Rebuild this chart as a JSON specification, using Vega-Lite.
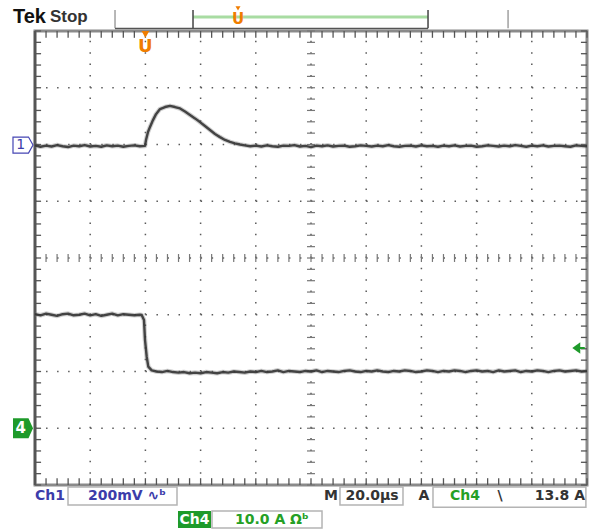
{
  "$schema": "https://vega.github.io/schema/vega-lite/v6.json",
  "width": 552,
  "height": 454,
  "autosize": {"type": "none"},
  "padding": {"left": 35, "top": 31, "right": 10, "bottom": 44},
  "background": "white",
  "config": {"view": {"stroke": "#8a8a8a", "strokeWidth": 3}},
  "datasets": {
    "vgrid": [{"t": -20}, {"t": 0}, {"t": 20}, {"t": 40}, {"t": 60}, {"t": 80}, {"t": 100}, {"t": 120}, {"t": 140}],
    "hgrid": [{"d": -3}, {"d": -2}, {"d": -1}, {"d": 0}, {"d": 1}, {"d": 2}, {"d": 3}],
    "xsub": [{"t": -40}, {"t": -36}, {"t": -32}, {"t": -28}, {"t": -24}, {"t": -20}, {"t": -16}, {"t": -12}, {"t": -8}, {"t": -4}, {"t": 0}, {"t": 4}, {"t": 8}, {"t": 12}, {"t": 16}, {"t": 20}, {"t": 24}, {"t": 28}, {"t": 32}, {"t": 36}, {"t": 40}, {"t": 44}, {"t": 48}, {"t": 52}, {"t": 56}, {"t": 60}, {"t": 64}, {"t": 68}, {"t": 72}, {"t": 76}, {"t": 80}, {"t": 84}, {"t": 88}, {"t": 92}, {"t": 96}, {"t": 100}, {"t": 104}, {"t": 108}, {"t": 112}, {"t": 116}, {"t": 120}, {"t": 124}, {"t": 128}, {"t": 132}, {"t": 136}, {"t": 140}, {"t": 144}, {"t": 148}, {"t": 152}, {"t": 156}, {"t": 160}],
    "ysub": [{"d": -4}, {"d": -3.8}, {"d": -3.6}, {"d": -3.4}, {"d": -3.2}, {"d": -3}, {"d": -2.8}, {"d": -2.6}, {"d": -2.4}, {"d": -2.2}, {"d": -2}, {"d": -1.8}, {"d": -1.6}, {"d": -1.4}, {"d": -1.2}, {"d": -1}, {"d": -0.8}, {"d": -0.6}, {"d": -0.4}, {"d": -0.2}, {"d": 0}, {"d": 0.2}, {"d": 0.4}, {"d": 0.6}, {"d": 0.8}, {"d": 1}, {"d": 1.2}, {"d": 1.4}, {"d": 1.6}, {"d": 1.8}, {"d": 2}, {"d": 2.2}, {"d": 2.4}, {"d": 2.6}, {"d": 2.8}, {"d": 3}, {"d": 3.2}, {"d": 3.4}, {"d": 3.6}, {"d": 3.8}, {"d": 4}],
    "ch1": [
      {"t": -40, "mV": -3}, {"t": -38, "mV": -8}, {"t": -36, "mV": -4}, {"t": -34, "mV": -7}, {"t": -32, "mV": -2}, {"t": -30, "mV": -6}, {"t": -28, "mV": -9}, {"t": -26, "mV": -4}, {"t": -24, "mV": -6}, {"t": -22, "mV": -2}, {"t": -20, "mV": -7}, {"t": -18, "mV": -5}, {"t": -16, "mV": -8}, {"t": -14, "mV": -3}, {"t": -12, "mV": -6}, {"t": -10, "mV": -4}, {"t": -8, "mV": -8}, {"t": -6, "mV": -5}, {"t": -4, "mV": -3}, {"t": -2, "mV": -6},
      {"t": -0.14, "mV": -5}, {"t": 0.22, "mV": 16}, {"t": 0.94, "mV": 44}, {"t": 1.67, "mV": 62}, {"t": 2.75, "mV": 86}, {"t": 3.84, "mV": 107}, {"t": 5.29, "mV": 125}, {"t": 7.1, "mV": 132}, {"t": 8.91, "mV": 136}, {"t": 10.72, "mV": 132}, {"t": 12.54, "mV": 127}, {"t": 14.35, "mV": 116}, {"t": 16.16, "mV": 104}, {"t": 17.97, "mV": 92}, {"t": 19.78, "mV": 79}, {"t": 21.59, "mV": 65}, {"t": 23.41, "mV": 51}, {"t": 25.22, "mV": 37}, {"t": 27.03, "mV": 26}, {"t": 28.84, "mV": 16}, {"t": 30.65, "mV": 9}, {"t": 32.46, "mV": 4}, {"t": 34.28, "mV": 0}, {"t": 36, "mV": -3}, {"t": 38, "mV": -6},
      {"t": 40, "mV": -4}, {"t": 42, "mV": -7}, {"t": 44, "mV": -3}, {"t": 46, "mV": -6}, {"t": 48, "mV": -8}, {"t": 50, "mV": -4}, {"t": 52, "mV": -5}, {"t": 54, "mV": -2}, {"t": 56, "mV": -7}, {"t": 58, "mV": -5}, {"t": 60, "mV": -9}, {"t": 62, "mV": -4}, {"t": 64, "mV": -6}, {"t": 66, "mV": -3}, {"t": 68, "mV": -7}, {"t": 70, "mV": -5}, {"t": 72, "mV": -4}, {"t": 74, "mV": -8}, {"t": 76, "mV": -6}, {"t": 78, "mV": -3}, {"t": 80, "mV": -5}, {"t": 82, "mV": -7}, {"t": 84, "mV": -4}, {"t": 86, "mV": -6}, {"t": 88, "mV": -2}, {"t": 90, "mV": -6}, {"t": 92, "mV": -8}, {"t": 94, "mV": -5}, {"t": 96, "mV": -4}, {"t": 98, "mV": -7}, {"t": 100, "mV": -3}, {"t": 102, "mV": -6}, {"t": 104, "mV": -5}, {"t": 106, "mV": -8}, {"t": 108, "mV": -4}, {"t": 110, "mV": -6}, {"t": 112, "mV": -3}, {"t": 114, "mV": -7}, {"t": 116, "mV": -5}, {"t": 118, "mV": -4}, {"t": 120, "mV": -8}, {"t": 122, "mV": -6}, {"t": 124, "mV": -3}, {"t": 126, "mV": -5}, {"t": 128, "mV": -7}, {"t": 130, "mV": -4}, {"t": 132, "mV": -6}, {"t": 134, "mV": -2}, {"t": 136, "mV": -5}, {"t": 138, "mV": -8}, {"t": 140, "mV": -4}, {"t": 142, "mV": -6}, {"t": 144, "mV": -3}, {"t": 146, "mV": -7}, {"t": 148, "mV": -5}, {"t": 150, "mV": -4}, {"t": 152, "mV": -6}, {"t": 154, "mV": -8}, {"t": 156, "mV": -3}, {"t": 158, "mV": -5}, {"t": 160, "mV": -6}
    ],
    "ch4": [
      {"t": -40, "A": 20.1}, {"t": -38, "A": 19.9}, {"t": -36, "A": 20.2}, {"t": -34, "A": 20.0}, {"t": -32, "A": 19.8}, {"t": -30, "A": 20.1}, {"t": -28, "A": 20.2}, {"t": -26, "A": 19.9}, {"t": -24, "A": 20.0}, {"t": -22, "A": 20.2}, {"t": -20, "A": 19.9}, {"t": -18, "A": 20.1}, {"t": -16, "A": 19.8}, {"t": -14, "A": 20.0}, {"t": -12, "A": 20.2}, {"t": -10, "A": 19.9}, {"t": -8, "A": 20.1}, {"t": -6, "A": 20.0}, {"t": -4, "A": 19.9}, {"t": -2, "A": 20.0},
      {"t": -1.34, "A": 19.96}, {"t": -0.51, "A": 19.08}, {"t": -0.14, "A": 15.55}, {"t": 0.47, "A": 12.61}, {"t": 1.05, "A": 10.85}, {"t": 2.28, "A": 10.2},
      {"t": 4, "A": 10.0}, {"t": 6, "A": 9.9}, {"t": 8, "A": 10.1}, {"t": 10, "A": 9.9}, {"t": 12, "A": 9.8}, {"t": 14, "A": 9.9}, {"t": 16, "A": 9.7}, {"t": 18, "A": 9.8}, {"t": 20, "A": 9.7}, {"t": 22, "A": 9.9}, {"t": 24, "A": 9.8}, {"t": 26, "A": 9.7}, {"t": 28, "A": 9.9}, {"t": 30, "A": 9.8}, {"t": 32, "A": 10.0}, {"t": 34, "A": 9.9}, {"t": 36, "A": 9.8}, {"t": 38, "A": 10.0}, {"t": 40, "A": 9.9}, {"t": 42, "A": 10.1}, {"t": 44, "A": 9.9}, {"t": 46, "A": 10.0}, {"t": 48, "A": 10.2}, {"t": 50, "A": 9.9}, {"t": 52, "A": 10.1}, {"t": 54, "A": 10.0}, {"t": 56, "A": 9.9}, {"t": 58, "A": 10.1}, {"t": 60, "A": 10.0}, {"t": 62, "A": 10.2}, {"t": 64, "A": 9.9}, {"t": 66, "A": 10.1}, {"t": 68, "A": 10.0}, {"t": 70, "A": 9.9}, {"t": 72, "A": 10.1}, {"t": 74, "A": 10.2}, {"t": 76, "A": 10.0}, {"t": 78, "A": 9.9}, {"t": 80, "A": 10.1}, {"t": 82, "A": 10.0}, {"t": 84, "A": 10.2}, {"t": 86, "A": 10.0}, {"t": 88, "A": 9.9}, {"t": 90, "A": 10.1}, {"t": 92, "A": 10.0}, {"t": 94, "A": 10.2}, {"t": 96, "A": 10.1}, {"t": 98, "A": 9.9}, {"t": 100, "A": 10.0}, {"t": 102, "A": 10.2}, {"t": 104, "A": 10.1}, {"t": 106, "A": 9.9}, {"t": 108, "A": 10.1}, {"t": 110, "A": 10.0}, {"t": 112, "A": 10.2}, {"t": 114, "A": 10.1}, {"t": 116, "A": 9.9}, {"t": 118, "A": 10.1}, {"t": 120, "A": 10.2}, {"t": 122, "A": 10.0}, {"t": 124, "A": 10.1}, {"t": 126, "A": 9.9}, {"t": 128, "A": 10.2}, {"t": 130, "A": 10.0}, {"t": 132, "A": 10.1}, {"t": 134, "A": 10.2}, {"t": 136, "A": 9.9}, {"t": 138, "A": 10.1}, {"t": 140, "A": 10.0}, {"t": 142, "A": 10.2}, {"t": 144, "A": 10.1}, {"t": 146, "A": 9.9}, {"t": 148, "A": 10.1}, {"t": 150, "A": 10.2}, {"t": 152, "A": 10.0}, {"t": 154, "A": 10.1}, {"t": 156, "A": 10.2}, {"t": 158, "A": 10.0}, {"t": 160, "A": 10.1}
    ]
  },
  "resolve": {"scale": {"y": "independent"}},
  "layer": [
    {
      "data": {"name": "vgrid"},
      "mark": {"type": "rule", "color": "#5a5a5a", "strokeWidth": 1.5, "strokeDash": [1.5, 9.85]},
      "encoding": {
        "x": {"field": "t", "type": "quantitative", "scale": {"domain": [-40, 160], "nice": false, "zero": false}, "axis": null},
        "y": {"datum": -4, "type": "quantitative", "scale": {"domain": [-4, 4], "nice": false, "zero": false}, "axis": null},
        "y2": {"datum": 4}
      }
    },
    {
      "data": {"name": "hgrid"},
      "mark": {"type": "rule", "color": "#5a5a5a", "strokeWidth": 1.5, "strokeDash": [1.5, 9.54]},
      "encoding": {
        "x": {"datum": -40, "type": "quantitative", "scale": {"domain": [-40, 160], "nice": false, "zero": false}, "axis": null},
        "x2": {"datum": 160},
        "y": {"field": "d", "type": "quantitative", "scale": {"domain": [-4, 4], "nice": false, "zero": false}, "axis": null}
      }
    },
    {
      "data": {"name": "xsub"},
      "mark": {"type": "rule", "color": "#555", "strokeWidth": 1.3},
      "encoding": {
        "x": {"field": "t", "type": "quantitative", "scale": {"domain": [-40, 160], "nice": false, "zero": false}, "axis": null},
        "y": {"datum": 4, "type": "quantitative", "scale": {"domain": [-4, 4], "nice": false, "zero": false}, "axis": null},
        "y2": {"datum": 3.88}
      }
    },
    {
      "data": {"name": "xsub"},
      "mark": {"type": "rule", "color": "#555", "strokeWidth": 1.3},
      "encoding": {
        "x": {"field": "t", "type": "quantitative", "scale": {"domain": [-40, 160], "nice": false, "zero": false}, "axis": null},
        "y": {"datum": -4, "type": "quantitative", "scale": {"domain": [-4, 4], "nice": false, "zero": false}, "axis": null},
        "y2": {"datum": -3.88}
      }
    },
    {
      "data": {"name": "xsub"},
      "mark": {"type": "rule", "color": "#777", "strokeWidth": 1.2},
      "encoding": {
        "x": {"field": "t", "type": "quantitative", "scale": {"domain": [-40, 160], "nice": false, "zero": false}, "axis": null},
        "y": {"datum": -0.07, "type": "quantitative", "scale": {"domain": [-4, 4], "nice": false, "zero": false}, "axis": null},
        "y2": {"datum": 0.07}
      }
    },
    {
      "data": {"name": "ysub"},
      "mark": {"type": "rule", "color": "#555", "strokeWidth": 1.3},
      "encoding": {
        "x": {"datum": -40, "type": "quantitative", "scale": {"domain": [-40, 160], "nice": false, "zero": false}, "axis": null},
        "x2": {"datum": -37.8},
        "y": {"field": "d", "type": "quantitative", "scale": {"domain": [-4, 4], "nice": false, "zero": false}, "axis": null}
      }
    },
    {
      "data": {"name": "ysub"},
      "mark": {"type": "rule", "color": "#555", "strokeWidth": 1.3},
      "encoding": {
        "x": {"datum": 160, "type": "quantitative", "scale": {"domain": [-40, 160], "nice": false, "zero": false}, "axis": null},
        "x2": {"datum": 157.8},
        "y": {"field": "d", "type": "quantitative", "scale": {"domain": [-4, 4], "nice": false, "zero": false}, "axis": null}
      }
    },
    {
      "data": {"name": "ysub"},
      "mark": {"type": "rule", "color": "#777", "strokeWidth": 1.2},
      "encoding": {
        "x": {"datum": 58.55, "type": "quantitative", "scale": {"domain": [-40, 160], "nice": false, "zero": false}, "axis": null},
        "x2": {"datum": 61.45},
        "y": {"field": "d", "type": "quantitative", "scale": {"domain": [-4, 4], "nice": false, "zero": false}, "axis": null}
      }
    },
    {
      "data": {"values": [{"t": -40}]},
      "mark": {"type": "rule", "color": "#555", "strokeWidth": 2.5},
      "encoding": {
        "x": {"field": "t", "type": "quantitative", "scale": {"domain": [-40, 160], "nice": false, "zero": false}, "axis": null},
        "y": {"datum": -4, "type": "quantitative", "scale": {"domain": [-4, 4], "nice": false, "zero": false}, "axis": null},
        "y2": {"datum": 4}
      }
    },
    {
      "data": {"name": "ch1"},
      "mark": {"type": "line", "color": "#777", "strokeWidth": 4.6, "strokeJoin": "round", "opacity": 0.35},
      "encoding": {
        "x": {"field": "t", "type": "quantitative", "scale": {"domain": [-40, 160], "nice": false, "zero": false}, "axis": null},
        "y": {"field": "mV", "type": "quantitative", "scale": {"domain": [-1200, 400], "nice": false, "zero": false}, "axis": null}
      }
    },
    {
      "data": {"name": "ch4"},
      "mark": {"type": "line", "color": "#777", "strokeWidth": 4.6, "strokeJoin": "round", "opacity": 0.35},
      "encoding": {
        "x": {"field": "t", "type": "quantitative", "scale": {"domain": [-40, 160], "nice": false, "zero": false}, "axis": null},
        "y": {"field": "A", "type": "quantitative", "scale": {"domain": [-10, 70], "nice": false, "zero": false}, "axis": null}
      }
    },
    {
      "data": {"name": "ch1"},
      "mark": {"type": "line", "color": "#333", "strokeWidth": 2.4, "strokeJoin": "round", "opacity": 0.9},
      "encoding": {
        "x": {"field": "t", "type": "quantitative", "scale": {"domain": [-40, 160], "nice": false, "zero": false}, "axis": null},
        "y": {"field": "mV", "type": "quantitative", "scale": {"domain": [-1200, 400], "nice": false, "zero": false}, "axis": null}
      }
    },
    {
      "data": {"name": "ch4"},
      "mark": {"type": "line", "color": "#333", "strokeWidth": 2.4, "strokeJoin": "round", "opacity": 0.9},
      "encoding": {
        "x": {"field": "t", "type": "quantitative", "scale": {"domain": [-40, 160], "nice": false, "zero": false}, "axis": null},
        "y": {"field": "A", "type": "quantitative", "scale": {"domain": [-10, 70], "nice": false, "zero": false}, "axis": null}
      }
    },
    {
      "data": {"values": [{"t": -11.01}, {"t": 131.4}]},
      "mark": {"type": "rule", "color": "#a0a0a0", "strokeWidth": 1.5},
      "encoding": {
        "x": {"field": "t", "type": "quantitative", "scale": {"domain": [-40, 160], "nice": false, "zero": false}, "axis": null},
        "y": {"datum": 4.05, "type": "quantitative", "scale": {"domain": [-4, 4], "nice": false, "zero": false}, "axis": null},
        "y2": {"datum": 4.37}
      }
    },
    {
      "data": {"values": [{"t": -11.01, "t2": 102.4}]},
      "mark": {"type": "rule", "color": "#555", "strokeWidth": 1.5},
      "encoding": {
        "x": {"field": "t", "type": "quantitative", "scale": {"domain": [-40, 160], "nice": false, "zero": false}, "axis": null},
        "x2": {"field": "t2"},
        "y": {"datum": 4.044, "type": "quantitative", "scale": {"domain": [-4, 4], "nice": false, "zero": false}, "axis": null}
      }
    },
    {
      "data": {"values": [{"t": 17.25, "t2": 102.4}]},
      "mark": {"type": "rule", "color": "#a8dca2", "strokeWidth": 3},
      "encoding": {
        "x": {"field": "t", "type": "quantitative", "scale": {"domain": [-40, 160], "nice": false, "zero": false}, "axis": null},
        "x2": {"field": "t2"},
        "y": {"datum": 4.247, "type": "quantitative", "scale": {"domain": [-4, 4], "nice": false, "zero": false}, "axis": null}
      }
    },
    {
      "data": {"values": [{"t": 17.25}, {"t": 102.4}]},
      "mark": {"type": "rule", "color": "#444", "strokeWidth": 1.5},
      "encoding": {
        "x": {"field": "t", "type": "quantitative", "scale": {"domain": [-40, 160], "nice": false, "zero": false}, "axis": null},
        "y": {"datum": 4.05, "type": "quantitative", "scale": {"domain": [-4, 4], "nice": false, "zero": false}, "axis": null},
        "y2": {"datum": 4.37}
      }
    },
    {
      "data": {"values": [{"t": 33.55, "d": 4.4}]},
      "mark": {"type": "point", "shape": "triangle-down", "filled": true, "size": 25, "color": "#f07d00", "opacity": 1},
      "encoding": {
        "x": {"field": "t", "type": "quantitative", "scale": {"domain": [-40, 160], "nice": false, "zero": false}, "axis": null},
        "y": {"field": "d", "type": "quantitative", "scale": {"domain": [-4, 4], "nice": false, "zero": false}, "axis": null}
      }
    },
    {
      "data": {"values": [{"t": 33.55, "d": 4.22, "s": "U"}]},
      "mark": {"type": "text", "font": "DejaVu Sans", "fontWeight": "bold", "fontSize": 15, "color": "#f07d00", "baseline": "middle", "align": "center"},
      "encoding": {
        "x": {"field": "t", "type": "quantitative", "scale": {"domain": [-40, 160], "nice": false, "zero": false}, "axis": null},
        "y": {"field": "d", "type": "quantitative", "scale": {"domain": [-4, 4], "nice": false, "zero": false}, "axis": null},
        "text": {"field": "s"}
      }
    },
    {
      "data": {"values": [{"t": 0, "d": 3.94}]},
      "mark": {"type": "point", "shape": "triangle-down", "filled": true, "size": 60, "color": "#f07d00", "opacity": 1},
      "encoding": {
        "x": {"field": "t", "type": "quantitative", "scale": {"domain": [-40, 160], "nice": false, "zero": false}, "axis": null},
        "y": {"field": "d", "type": "quantitative", "scale": {"domain": [-4, 4], "nice": false, "zero": false}, "axis": null}
      }
    },
    {
      "data": {"values": [{"t": 0, "d": 3.72, "s": "U"}]},
      "mark": {"type": "text", "font": "DejaVu Sans", "fontWeight": "bold", "fontSize": 18, "color": "#f07d00", "baseline": "middle", "align": "center"},
      "encoding": {
        "x": {"field": "t", "type": "quantitative", "scale": {"domain": [-40, 160], "nice": false, "zero": false}, "axis": null},
        "y": {"field": "d", "type": "quantitative", "scale": {"domain": [-4, 4], "nice": false, "zero": false}, "axis": null},
        "text": {"field": "s"}
      }
    },
    {
      "data": {"values": [
        {"t": -28.04, "t2": 11.45, "d": -4.035, "d2": -4.352},
        {"t": 70.5, "t2": 93.33, "d": -4.035, "d2": -4.352},
        {"t": 104.2, "t2": 159.6, "d": -4.035, "d2": -4.39},
        {"t": 24.13, "t2": 63.99, "d": -4.458, "d2": -4.758}
      ]},
      "mark": {"type": "rect", "fill": "white", "stroke": "#b4b4b4", "strokeWidth": 1.5},
      "encoding": {
        "x": {"field": "t", "type": "quantitative", "scale": {"domain": [-40, 160], "nice": false, "zero": false}, "axis": null},
        "x2": {"field": "t2"},
        "y": {"field": "d", "type": "quantitative", "scale": {"domain": [-4, 4], "nice": false, "zero": false}, "axis": null},
        "y2": {"field": "d2"}
      }
    },
    {
      "data": {"values": [{"t": 11.81, "t2": 23.77, "d": -4.458, "d2": -4.758}]},
      "mark": {"type": "rect", "fill": "#1e9a2a"},
      "encoding": {
        "x": {"field": "t", "type": "quantitative", "scale": {"domain": [-40, 160], "nice": false, "zero": false}, "axis": null},
        "x2": {"field": "t2"},
        "y": {"field": "d", "type": "quantitative", "scale": {"domain": [-4, 4], "nice": false, "zero": false}, "axis": null},
        "y2": {"field": "d2"}
      }
    },
    {
      "data": {"values": [{"t": -40, "d": -4.194, "s": "Ch1"}, {"t": -20.8, "d": -4.194, "s": "200mV ∿ᵇ"}]},
      "mark": {"type": "text", "font": "DejaVu Sans", "fontWeight": "bold", "fontSize": 14, "color": "#3c3caa", "baseline": "middle", "align": "left"},
      "encoding": {
        "x": {"field": "t", "type": "quantitative", "scale": {"domain": [-40, 160], "nice": false, "zero": false}, "axis": null},
        "y": {"field": "d", "type": "quantitative", "scale": {"domain": [-4, 4], "nice": false, "zero": false}, "axis": null},
        "text": {"field": "s"}
      }
    },
    {
      "data": {"values": [{"t": 32.46, "d": -4.617, "s": "10.0 A Ωᵇ"}]},
      "mark": {"type": "text", "font": "DejaVu Sans", "fontWeight": "bold", "fontSize": 14, "color": "#25a025", "baseline": "middle", "align": "left"},
      "encoding": {
        "x": {"field": "t", "type": "quantitative", "scale": {"domain": [-40, 160], "nice": false, "zero": false}, "axis": null},
        "y": {"field": "d", "type": "quantitative", "scale": {"domain": [-4, 4], "nice": false, "zero": false}, "axis": null},
        "text": {"field": "s"}
      }
    },
    {
      "data": {"values": [{"t": 115.8, "d": -4.194, "s": "Ch4"}]},
      "mark": {"type": "text", "font": "DejaVu Sans", "fontWeight": "bold", "fontSize": 14, "color": "#25a025", "baseline": "middle", "align": "center"},
      "encoding": {
        "x": {"field": "t", "type": "quantitative", "scale": {"domain": [-40, 160], "nice": false, "zero": false}, "axis": null},
        "y": {"field": "d", "type": "quantitative", "scale": {"domain": [-4, 4], "nice": false, "zero": false}, "axis": null},
        "text": {"field": "s"}
      }
    },
    {
      "data": {"values": [{"t": 17.79, "d": -4.61, "s": "Ch4"}]},
      "mark": {"type": "text", "font": "DejaVu Sans", "fontWeight": "bold", "fontSize": 14, "color": "white", "baseline": "middle", "align": "center"},
      "encoding": {
        "x": {"field": "t", "type": "quantitative", "scale": {"domain": [-40, 160], "nice": false, "zero": false}, "axis": null},
        "y": {"field": "d", "type": "quantitative", "scale": {"domain": [-4, 4], "nice": false, "zero": false}, "axis": null},
        "text": {"field": "s"}
      }
    },
    {
      "data": {"values": [{"t": 69.78, "d": -4.194, "s": "M"}, {"t": 159.3, "d": -4.194, "s": "13.8 A"}]},
      "mark": {"type": "text", "font": "DejaVu Sans", "fontWeight": "bold", "fontSize": 14, "color": "#333", "baseline": "middle", "align": "right"},
      "encoding": {
        "x": {"field": "t", "type": "quantitative", "scale": {"domain": [-40, 160], "nice": false, "zero": false}, "axis": null},
        "y": {"field": "d", "type": "quantitative", "scale": {"domain": [-4, 4], "nice": false, "zero": false}, "axis": null},
        "text": {"field": "s"}
      }
    },
    {
      "data": {"values": [{"t": 82.1, "d": -4.194, "s": "20.0µs"}, {"t": 100.9, "d": -4.194, "s": "A"}, {"t": 128.5, "d": -4.194, "s": "\\"}]},
      "mark": {"type": "text", "font": "DejaVu Sans", "fontWeight": "bold", "fontSize": 14, "color": "#333", "baseline": "middle", "align": "center"},
      "encoding": {
        "x": {"field": "t", "type": "quantitative", "scale": {"domain": [-40, 160], "nice": false, "zero": false}, "axis": null},
        "y": {"field": "d", "type": "quantitative", "scale": {"domain": [-4, 4], "nice": false, "zero": false}, "axis": null},
        "text": {"field": "s"}
      }
    },
    {
      "data": {"values": [{"t": -47.97, "d": 4.24, "s": "Tek"}]},
      "mark": {"type": "text", "font": "Liberation Sans", "fontWeight": "bold", "fontSize": 20, "color": "#111", "baseline": "middle", "align": "left"},
      "encoding": {
        "x": {"field": "t", "type": "quantitative", "scale": {"domain": [-40, 160], "nice": false, "zero": false}, "axis": null},
        "y": {"field": "d", "type": "quantitative", "scale": {"domain": [-4, 4], "nice": false, "zero": false}, "axis": null},
        "text": {"field": "s"}
      }
    },
    {
      "data": {"values": [{"t": -34.57, "d": 4.24, "s": "Stop"}]},
      "mark": {"type": "text", "font": "Liberation Sans", "fontWeight": "bold", "fontSize": 17, "color": "#333", "baseline": "middle", "align": "left"},
      "encoding": {
        "x": {"field": "t", "type": "quantitative", "scale": {"domain": [-40, 160], "nice": false, "zero": false}, "axis": null},
        "y": {"field": "d", "type": "quantitative", "scale": {"domain": [-4, 4], "nice": false, "zero": false}, "axis": null},
        "text": {"field": "s"}
      }
    },
    {
      "data": {"values": [{"t": -44.35, "d": 1.99}]},
      "mark": {"type": "point", "shape": "M -1 -0.8 L 0.55 -0.8 L 1 0 L 0.55 0.8 L -1 0.8 Z", "filled": true, "fill": "white", "stroke": "#4646b4", "strokeWidth": 1.2, "size": 400, "opacity": 1},
      "encoding": {
        "x": {"field": "t", "type": "quantitative", "scale": {"domain": [-40, 160], "nice": false, "zero": false}, "axis": null},
        "y": {"field": "d", "type": "quantitative", "scale": {"domain": [-4, 4], "nice": false, "zero": false}, "axis": null}
      }
    },
    {
      "data": {"values": [{"t": -45.2, "d": 1.99, "s": "1"}]},
      "mark": {"type": "text", "font": "DejaVu Sans", "fontSize": 14, "color": "#3c3caa", "baseline": "middle", "align": "center"},
      "encoding": {
        "x": {"field": "t", "type": "quantitative", "scale": {"domain": [-40, 160], "nice": false, "zero": false}, "axis": null},
        "y": {"field": "d", "type": "quantitative", "scale": {"domain": [-4, 4], "nice": false, "zero": false}, "axis": null},
        "text": {"field": "s"}
      }
    },
    {
      "data": {"values": [{"t": -44.35, "d": -3.0}]},
      "mark": {"type": "point", "shape": "M -1 -1 L 0.55 -1 L 1 0 L 0.55 1 L -1 1 Z", "filled": true, "color": "#1e9a2a", "size": 400, "opacity": 1},
      "encoding": {
        "x": {"field": "t", "type": "quantitative", "scale": {"domain": [-40, 160], "nice": false, "zero": false}, "axis": null},
        "y": {"field": "d", "type": "quantitative", "scale": {"domain": [-4, 4], "nice": false, "zero": false}, "axis": null}
      }
    },
    {
      "data": {"values": [{"t": -45.2, "d": -3.0, "s": "4"}]},
      "mark": {"type": "text", "font": "DejaVu Sans", "fontWeight": "bold", "fontSize": 15, "color": "white", "baseline": "middle", "align": "center"},
      "encoding": {
        "x": {"field": "t", "type": "quantitative", "scale": {"domain": [-40, 160], "nice": false, "zero": false}, "axis": null},
        "y": {"field": "d", "type": "quantitative", "scale": {"domain": [-4, 4], "nice": false, "zero": false}, "axis": null},
        "text": {"field": "s"}
      }
    },
    {
      "data": {"values": [{"t": 155.5, "t2": 159.2, "d": -1.586}]},
      "mark": {"type": "rule", "color": "#1e9a2a", "strokeWidth": 2},
      "encoding": {
        "x": {"field": "t", "type": "quantitative", "scale": {"domain": [-40, 160], "nice": false, "zero": false}, "axis": null},
        "x2": {"field": "t2"},
        "y": {"field": "d", "type": "quantitative", "scale": {"domain": [-4, 4], "nice": false, "zero": false}, "axis": null}
      }
    },
    {
      "data": {"values": [{"t": 155.5, "d": -1.586}]},
      "mark": {"type": "point", "shape": "M 1 -1 L -0.4 0 L 1 1 Z", "filled": true, "size": 130, "color": "#1e9a2a", "opacity": 1},
      "encoding": {
        "x": {"field": "t", "type": "quantitative", "scale": {"domain": [-40, 160], "nice": false, "zero": false}, "axis": null},
        "y": {"field": "d", "type": "quantitative", "scale": {"domain": [-4, 4], "nice": false, "zero": false}, "axis": null}
      }
    }
  ]
}
